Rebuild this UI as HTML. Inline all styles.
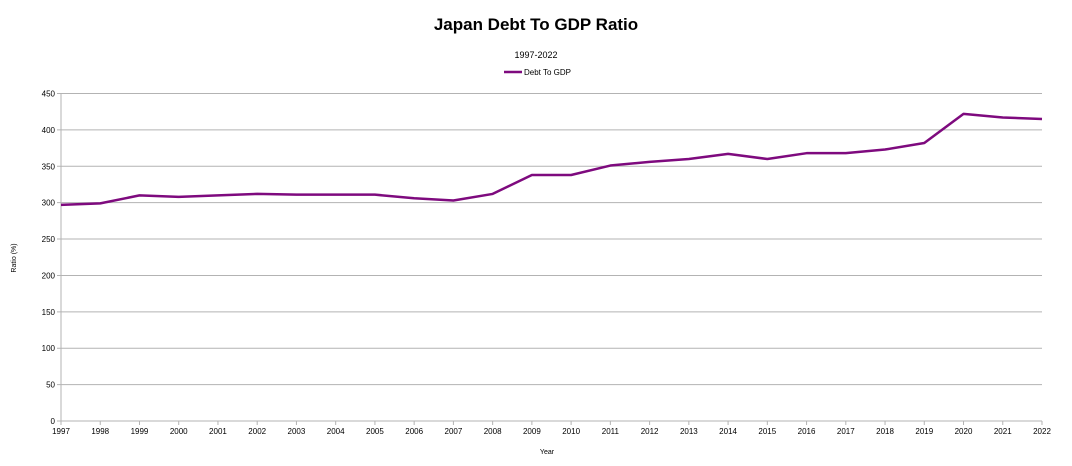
<!DOCTYPE html>
<html><head><meta charset="utf-8"><style>
body{margin:0;background:#fff;}
svg{display:block;font-family:"Liberation Sans",sans-serif;}
</style></head><body>
<svg id="chart" width="1072" height="466">
<text x="536" y="30" text-anchor="middle" font-size="17" font-weight="bold">Japan Debt To GDP Ratio</text>
<text x="536" y="58" text-anchor="middle" font-size="9">1997-2022</text>
<g>
<line x1="504" y1="72" x2="522" y2="72" stroke="#7e0a7e" stroke-width="2.5"/>
<text x="524" y="75" font-size="8">Debt To GDP</text>
</g>
<text transform="translate(16,258) rotate(-90)" text-anchor="middle" font-size="7">Ratio (%)</text>
<text x="547" y="454" text-anchor="middle" font-size="7">Year</text>
<g id="grid"></g><g id="axes"></g><g id="series"></g>
</svg>
<script>
const years=[1997,1998,1999,2000,2001,2002,2003,2004,2005,2006,2007,2008,2009,2010,2011,2012,2013,2014,2015,2016,2017,2018,2019,2020,2021,2022];
const ratios=[297,299,310,308,310,312,311,311,311,306,303,312,338,338,351,356,360,367,360,368,368,373,382,422,417,415];
const yTicks=[0,50,100,150,200,250,300,350,400,450];
const NS="http://www.w3.org/2000/svg";
const x0=61,x1=1042,yb=421,yt=93.5;
const xs=i=>x0+(x1-x0)*i/(years.length-1);
const ys=v=>yb-(yb-yt)*v/450;
function mk(t,a,p){const e=document.createElementNS(NS,t);for(const k in a)e.setAttribute(k,a[k]);p.appendChild(e);return e;}
const grid=document.getElementById('grid'),axes=document.getElementById('axes'),ser=document.getElementById('series');
yTicks.forEach(v=>{
 const l=mk('line',{x1:x0-4,x2:x1,y1:ys(v),y2:ys(v),stroke:'#b3b3b3','stroke-width':1},grid);
 
 
 const t=mk('text',{x:x0-6,y:ys(v)+3,'text-anchor':'end','font-size':8},axes);t.textContent=v;
 
 
});
mk('line',{x1:x0,x2:x0,y1:yt,y2:yb+4,stroke:'#b3b3b3'},axes);
years.forEach((y,i)=>{
 mk('line',{x1:xs(i),x2:xs(i),y1:yb,y2:yb+4,stroke:'#b3b3b3'},axes);
 const t=mk('text',{x:xs(i),y:yb+13,'text-anchor':'middle','font-size':8},axes);t.textContent=y;
 
 
});
const p=mk('polyline',{points:ratios.map((v,i)=>xs(i)+','+ys(v)).join(' '),fill:'none',stroke:'#7e0a7e','stroke-width':2.5,'stroke-linejoin':'round'},ser);


</script>
</body></html>
